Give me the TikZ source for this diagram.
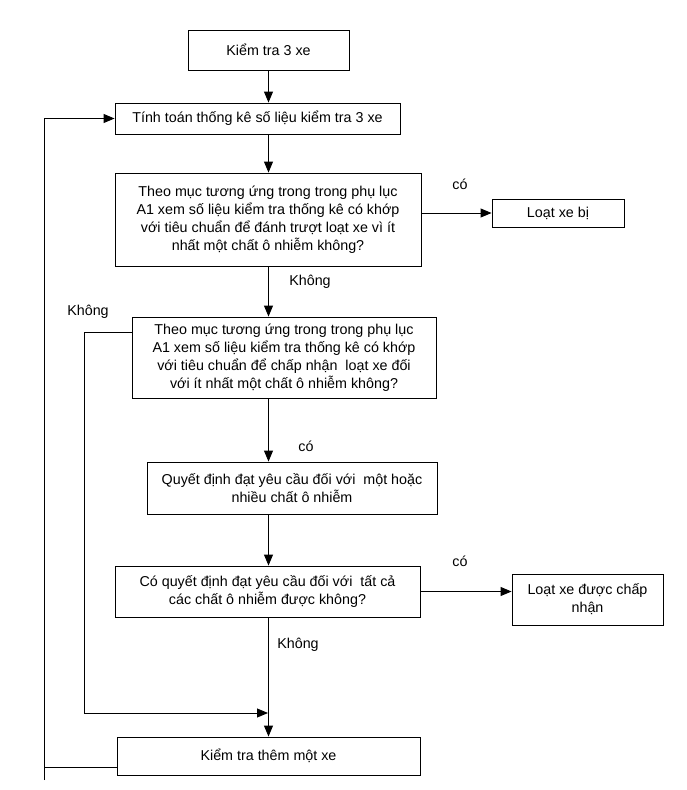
\documentclass[tikz,border=0pt]{standalone}
\usepackage{fontspec}
\setmainfont{Liberation Sans}
\usepackage{tikz}
\usetikzlibrary{arrows.meta, calc}
\tikzset{
    box/.style={rectangle, draw, line width=0.9pt, align=center, inner sep=2pt, font=\fontsize{14.3}{18}\selectfont},
    arrow/.style={-{Triangle[length=11pt,width=9pt]}, line width=0.9pt},
    link/.style={line width=0.9pt},
    lbl/.style={font=\fontsize{14.3}{18}\selectfont}
}
\begin{document}
\begin{tikzpicture}[x=1pt, y=-1pt]
            \useasboundingbox (0,0) rectangle (687,790);

            % Main column
            \node (b1) [box, minimum width=161pt, minimum height=40pt] at (268.5,50) {Kiểm tra 3 xe};
            \node (b2) [box, minimum width=285pt, minimum height=31pt] at (257.5,118.5) {Tính toán thống kê số liệu kiểm tra 3 xe};
            \node (b3) [box, minimum width=306pt, minimum height=93pt] at (268,219.5) {
                Theo mục tương ứng trong trong phụ lục\\
                A1 xem số liệu kiểm tra thống kê có khớp\\
                với tiêu chuẩn để đánh trượt loạt xe vì ít\\
                nhất một chất ô nhiễm không?
            };
            \node (b5) [box, minimum width=304pt, minimum height=81pt] at (284,357.5) {
                Theo mục tương ứng trong trong phụ lục\\
                A1 xem số liệu kiểm tra thống kê có khớp\\
                với tiêu chuẩn để chấp nhận\ \ loạt xe đối\\
                với ít nhất một chất ô nhiễm không?
            };
            \node (b6) [box, minimum width=290pt, minimum height=52pt] at (292,488) {
                Quyết định đạt yêu cầu đối với\ \ một hoặc\\
                nhiều chất ô nhiễm
            };
            \node (b7) [box, minimum width=305pt, minimum height=51pt] at (267.5,591.5) {
                Có quyết định đạt yêu cầu đối với\ \ tất cả\\
                các chất ô nhiễm được không?
            };
            \node (b9) [box, minimum width=303pt, minimum height=38pt] at (268.5,756) {Kiểm tra thêm một xe};

            % Outcomes
            \node (b4) [box, minimum width=132pt, minimum height=28pt] at (558,213) {Loạt xe bị};
            \node (b8) [box, minimum width=151pt, minimum height=51pt] at (587.5,599.5) {Loạt xe được chấp\\nhận};

            % Labels
            \node (c1) [lbl] at (460,184) {có};
            \node (k1) [lbl] at (310,282) {Không};
            \node (k2) [lbl] at (88,312) {Không};
            \node (c2) [lbl] at (306,446) {có};
            \node (c3) [lbl] at (460,561) {có};
            \node (k3) [lbl] at (298,645) {Không};

            % Arrows down
            \draw [arrow] (b1.south) -- (b1.south |- b2.north);
            \draw [arrow] (b2.south -| b1.south) -- (b3.north -| b1.south);
            \draw [arrow] (b3.south -| b1.south) -- (b5.north -| b1.south);
            \draw [arrow] (b5.south -| b1.south) -- (b6.north -| b1.south);
            \draw [arrow] (b6.south -| b1.south) -- (b7.north -| b1.south);
            \draw [arrow] (b7.south -| b1.south) -- (b9.north -| b1.south);

            % Arrows right
            \draw [arrow] (b3.east |- b4.west) -- (b4.west);
            \draw [arrow] (b7.east) -- (b7.east -| b8.west);

            % Loops back
            \coordinate (t1) at (84,332);
            \coordinate (j1) at (268,713);
            \draw [link] (b5.west |- t1) -- (t1) -- (t1 |- j1);
            \draw [arrow] (t1 |- j1) -- (j1);
            \coordinate (t2) at (44,767);
            \draw [link] (b9.west |- t2) -- (t2);
            \draw [arrow] ($(t2)+(0,13)$) -- (t2 |- b2.west) -- (b2.west);
\end{tikzpicture}
\end{document}
